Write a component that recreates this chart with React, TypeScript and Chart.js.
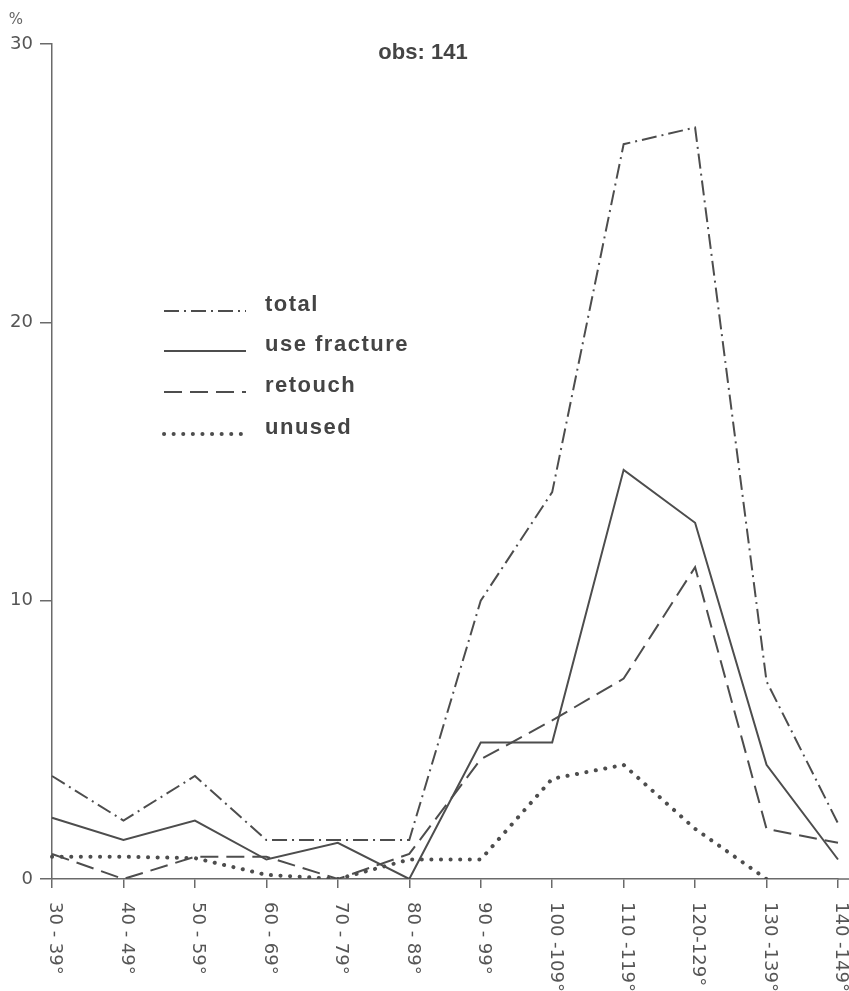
import React, { useEffect, useRef } from "react";
import { Chart, registerables } from "chart.js";

Chart.register(...registerables);

const categories = ["30 - 39°", "40 - 49°", "50 - 59°", "60 - 69°", "70 - 79°", "80 - 89°", "90 - 99°", "100 -109°", "110 -119°", "120-129°", "130 -139°", "140 -149°"];
const totalValues = [3.7, 2.1, 3.7, 1.4, 1.4, 1.4, 10.0, 13.9, 26.4, 27.0, 7.1, 2.0];
const useFractureValues = [2.2, 1.4, 2.1, 0.7, 1.3, 0, 4.9, 4.9, 14.7, 12.8, 4.1, 0.7];
const retouchValues = [0.9, 0, 0.8, 0.8, 0, 0.9, 4.3, 5.7, 7.2, 11.2, 1.8, 1.3];
const unusedValues: (number | null)[] = [0.8, 0.8, 0.75, 0.15, 0, 0.7, 0.7, 3.6, 4.1, 1.8, 0, null];
const yTicks = [0, 10, 20, 30];
const seriesNames = ["total", "use fracture", "retouch", "unused"];
const titleText = "obs: 141";
const unitText = "%";

const INK = "#4d4d4d";
const AXIS = "#6a6a6a";

const overlayPlugin = {
  id: "overlay",
  afterDraw(chart: any) {
    const ctx = chart.ctx as CanvasRenderingContext2D;
    const xs = chart.scales.x;
    const area = chart.chartArea;
    ctx.save();
    // rotated x labels (reading top to bottom)
    ctx.fillStyle = "#555";
    ctx.font = "18px 'DejaVu Sans'";
    ctx.textAlign = "left";
    ctx.textBaseline = "middle";
    categories.forEach((c, i) => {
      const x = xs.getPixelForTick(i);
      ctx.save();
      ctx.translate(x + 3, area.bottom + 23);
      ctx.rotate(Math.PI / 2);
      ctx.fillText(c, 0, 0);
      ctx.restore();
    });
    // extend x axis line to the right edge
    ctx.strokeStyle = AXIS;
    ctx.lineWidth = 1.5;
    ctx.beginPath();
    ctx.moveTo(area.right, area.bottom);
    ctx.lineTo(chart.width, area.bottom);
    ctx.stroke();
    // unit
    ctx.fillStyle = "#666";
    ctx.font = "15px 'DejaVu Sans'";
    ctx.textAlign = "center";
    ctx.textBaseline = "middle";
    ctx.fillText(unitText, 16, 20);
    // title
    ctx.fillStyle = "#444";
    ctx.font = "bold 22px 'Liberation Sans'";
    ctx.textAlign = "center";
    ctx.textBaseline = "alphabetic";
    ctx.fillText(titleText, 423, 59);
    // legend
    const rows = [311, 351, 392, 434];
    chart.data.datasets.forEach((ds: any, i: number) => {
      const y = rows[i];
      ctx.save();
      ctx.strokeStyle = ds.borderColor;
      ctx.lineWidth = ds.borderWidth;
      ctx.lineCap = ds.borderCapStyle || "butt";
      ctx.setLineDash(ds.borderDash || []);
      ctx.beginPath();
      ctx.moveTo(164, y);
      ctx.lineTo(246, y);
      ctx.stroke();
      ctx.restore();
      ctx.save();
      ctx.fillStyle = "#444";
      ctx.font = "bold 22px 'Liberation Sans'";
      (ctx as any).letterSpacing = "1.5px";
      ctx.textAlign = "left";
      ctx.textBaseline = "alphabetic";
      ctx.fillText(seriesNames[i], 265, y);
      ctx.restore();
    });
    ctx.restore();
  },
};

export default function App() {
  const ref = useRef<HTMLCanvasElement>(null);
  useEffect(() => {
    const canvas = ref.current!;
    const chart = new Chart(canvas, {
      type: "line",
      data: {
        labels: categories,
        datasets: [
          { label: seriesNames[0], data: totalValues, borderColor: INK, borderWidth: 2, borderDash: [15, 5, 2, 5], pointRadius: 0, tension: 0, fill: false },
          { label: seriesNames[1], data: useFractureValues, borderColor: INK, borderWidth: 2, pointRadius: 0, tension: 0, fill: false },
          { label: seriesNames[2], data: retouchValues, borderColor: INK, borderWidth: 2, borderDash: [18, 8], pointRadius: 0, tension: 0, fill: false },
          { label: seriesNames[3], data: unusedValues, borderColor: INK, borderWidth: 4, borderDash: [0.1, 9.5], borderCapStyle: "round", pointRadius: 0, tension: 0, fill: false, spanGaps: false },
        ] as any,
      },
      options: {
        responsive: false,
        animation: false,
        layout: { padding: { top: 44, right: 11, left: 0, bottom: 0 } },
        plugins: { legend: { display: false }, tooltip: { enabled: false }, title: { display: false } },
        scales: {
          x: {
            type: "category",
            offset: false,
            grid: { display: true, drawOnChartArea: false, drawTicks: true, tickLength: 9, color: AXIS, lineWidth: 1.5 },
            border: { display: true, color: AXIS, width: 1.5 },
            ticks: { display: false },
            afterFit: (s: any) => { s.height = 112; },
          },
          y: {
            min: 0,
            max: 30,
            afterBuildTicks: (s: any) => { s.ticks = yTicks.map((v) => ({ value: v })); },
            grid: { display: true, drawOnChartArea: false, drawTicks: true, tickLength: 12, color: AXIS, lineWidth: 1.5 },
            border: { display: true, color: AXIS, width: 1.5 },
            ticks: { color: "#555", font: { family: "'DejaVu Sans'", size: 18 }, padding: 7 },
            afterFit: (s: any) => { s.width = 52; },
          },
        },
      },
      plugins: [overlayPlugin],
    });
    return () => chart.destroy();
  }, []);
  return (
    <div style={{ position: "absolute", left: 0, top: 0, width: 849, height: 991, background: "#fff" }}>
      <canvas ref={ref} width={849} height={991} style={{ width: 849, height: 991, display: "block" }} />
    </div>
  );
}
